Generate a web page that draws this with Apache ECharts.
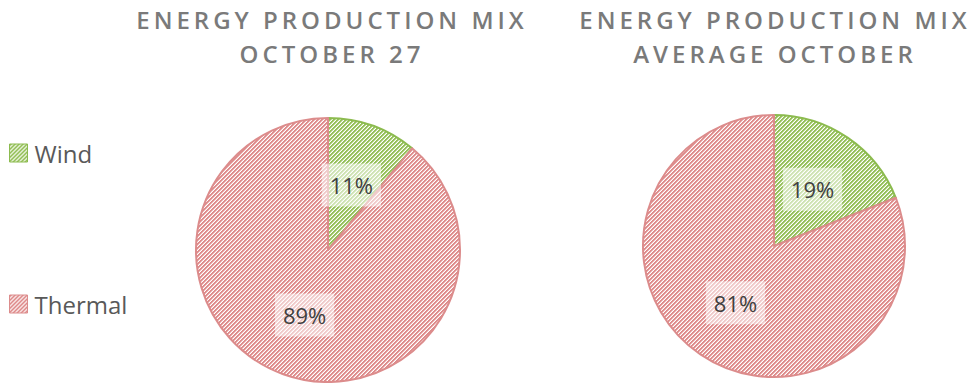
<!DOCTYPE html>
<html>
<head>
<meta charset="utf-8">
<script src="https://cdn.jsdelivr.net/npm/echarts@6/dist/echarts.min.js"></script>
<style>
  html, body { margin: 0; padding: 0; background: #fff; }
  #chart { width: 971px; height: 383px; }
</style>
</head>
<body>
<div id="chart"></div>
<script>
// Energy production mix: one day vs. the monthly average
const sources = ['Wind', 'Thermal'];
const october27 = [11, 89];
const averageOctober = [19, 81];
const titleLines = [
  ['ENERGY PRODUCTION MIX', 'OCTOBER 27'],
  ['ENERGY PRODUCTION MIX', 'AVERAGE OCTOBER']
];

const stripeColors = { Wind: ['#95c05a', '#c6dea6'], Thermal: ['#de8c8c', '#efc3c3'] };
const edgeColors = { Wind: '#8cbb4f', Thermal: '#dc8c8c' };

// Small repeating tile of diagonal hatching ("/" direction)
function hatchTile(colors) {
  const size = 4;
  const c = document.createElement('canvas');
  c.width = size;
  c.height = size;
  const ctx = c.getContext('2d');
  ctx.fillStyle = '#ffffff';
  ctx.fillRect(0, 0, size, size);
  for (let y = 0; y < size; y++) {
    for (let x = 0; x < size; x++) {
      const k = (x + y) % size;
      if (k === 0 || k === 1) {
        ctx.fillStyle = colors[0];
        ctx.fillRect(x, y, 1, 1);
      } else if (k === 2) {
        ctx.fillStyle = colors[1];
        ctx.fillRect(x, y, 1, 1);
      }
    }
  }
  return { image: c, repeat: 'repeat' };
}

const fills = { Wind: hatchTile(stripeColors.Wind), Thermal: hatchTile(stripeColors.Thermal) };

function stripedItem(name, value) {
  return {
    name: name,
    value: value,
    itemStyle: {
      color: fills[name],
      borderColor: edgeColors[name],
      borderWidth: 2
    }
  };
}

const labelStyle = {
  show: true,
  position: 'inside',
  formatter: '{d}%',
  fontFamily: 'Open Sans',
  fontSize: 22,
  color: '#404040',
  backgroundColor: 'rgba(255,255,255,0.55)',
  padding: [7, 8],
  lineHeight: 29
};

function pieSeries(values, center, radius) {
  return {
    type: 'pie',
    center: center,
    radius: radius,
    startAngle: 90,
    clockwise: true,
    animation: false,
    silent: true,
    label: labelStyle,
    labelLine: { show: false },
    emphasis: { disabled: true },
    data: sources.map((s, i) => stripedItem(s, values[i]))
  };
}

const titleStyle = {
  fontFamily: 'Open Sans',
  fontSize: 24,
  fontWeight: 600,
  color: '#7a7a7a',
  lineHeight: 34
};

const chart = echarts.init(document.getElementById('chart'), null, { renderer: 'svg' });
chart.setOption({
  backgroundColor: '#ffffff',
  animation: false,
  title: [
    { text: titleLines[0].join('\n'), left: 327, top: -3, textAlign: 'center', textStyle: titleStyle },
    { text: titleLines[1].join('\n'), left: 770, top: -3, textAlign: 'center', textStyle: titleStyle }
  ],
  legend: {
    orient: 'vertical',
    left: 4,
    top: 136,
    itemWidth: 18,
    itemHeight: 18,
    itemGap: 127,
    icon: 'rect',
    data: sources.map(s => ({ name: s, itemStyle: { color: fills[s], borderColor: edgeColors[s], borderWidth: 1 } })),
    selectedMode: false,
    textStyle: { fontFamily: 'Open Sans', fontSize: 24, color: '#595959', padding: [0, 0, 0, 2] }
  },
  series: [
    pieSeries(october27, [328, 250], 132),
    pieSeries(averageOctober, [774, 246], 131)
  ]
});

// Widen the tracking of the title lines
const allTitleText = new Set(titleLines.flat());
function spaceTitles() {
  document.querySelectorAll('#chart svg text').forEach(t => {
    if (allTitleText.has(t.textContent.trim())) {
      t.style.letterSpacing = '4px';
    }
  });
}
chart.on('finished', spaceTitles);
spaceTitles();
</script>
</body>
</html>
